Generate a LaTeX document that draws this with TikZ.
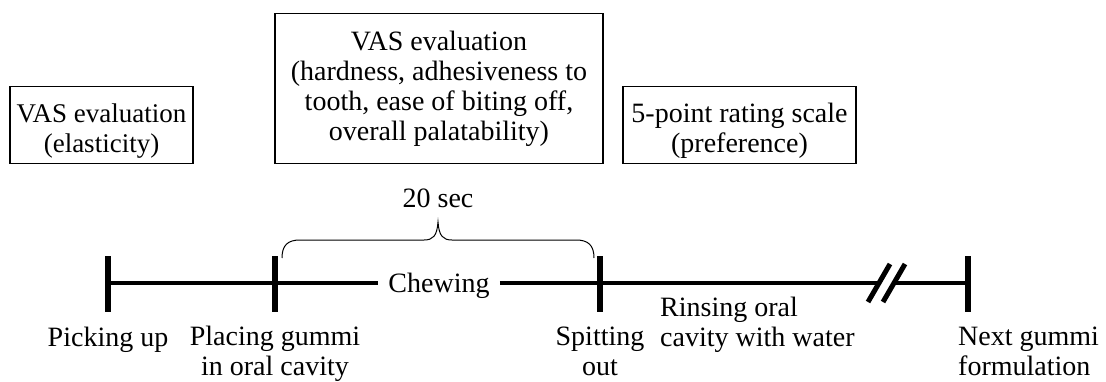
\documentclass[tikz,border=0pt]{standalone}
\usepackage{fontspec}
\setmainfont{Liberation Serif}
\begin{document}
\begin{tikzpicture}[x=1pt,y=-1pt,
  txt/.style={font=\fontsize{28}{30}\selectfont, inner sep=0pt},
  box/.style={txt, draw, line width=1.4pt, align=center},
  tl/.style={line width=4pt},
  tickmark/.style={line width=6pt},
  brk/.style={line width=5pt}]
\useasboundingbox (0,0) rectangle (1106,381);
% boxes
\node[box, font=\fontsize{27}{30}\selectfont, minimum width=183pt, minimum height=77pt] (b1) at (101.5,125) {\rule{0pt}{31pt}VAS evaluation\\(elasticity)};
\node[box, minimum width=328pt, minimum height=150pt] (b2) at (439,88.5) {VAS evaluation\\(hardness, adhesiveness to\\tooth, ease of biting off,\\overall palatability)};
\node[box, minimum width=233pt, minimum height=77pt] (b3) at (739.5,125) {\rule{0pt}{31pt}5-point rating scale\\(preference)};
% timeline points
\coordinate (p1) at (108,283);
\coordinate (p2) at (275,283);
\coordinate (p3) at (600,283);
\coordinate (p4) at (968,283);
\node[txt, inner xsep=10pt] (chew) at (439,286) {Chewing};
\coordinate (m1) at (879,283);
\coordinate (m2) at (894,283);
\draw[tl] (p1) -- (p2) -- (chew.west |- p2);
\draw[tl] (chew.east |- p3) -- (p3) -- (m1);
\draw[tl] (m2) -- (p4);
\foreach \p in {p1,p2,p3,p4} \draw[tickmark] (\p) ++(0,-27) -- ++(0,56);
\draw[brk] (m1) ++(-11,19) -- ++(22,-38);
\draw[brk] (m2) ++(-11,19) -- ++(22,-38);
% brace
\coordinate (bl) at (282,258);
\coordinate (br) at (594,258);
\coordinate (bt) at (438,222);
\draw[line width=1pt] (bl) .. controls (282,245) and (288,240) .. (300,240) -- (424,240)
  .. controls (433,240) and (437,236) .. (bt)
  .. controls (439,236) and (443,240) .. (452,240) -- (576,240)
  .. controls (588,240) and (594,245) .. (br);
\node[txt, anchor=base] (sec) at (438,207) {20 sec};
% labels (base anchor = last line)
\node[txt, anchor=base] (l1) at (108,346) {Picking up};
\node[txt, anchor=base, align=center] (l2) at (275,375) {Placing gummi\\in oral cavity};
\node[txt, anchor=base, align=center] (l3) at (600,375) {Spitting\\out};
\node[txt, anchor=base west, align=left] (l4) at (660,346) {Rinsing oral\\cavity with water};
\node[txt, anchor=base west, align=left] (l5) at (958,375) {Next gummi\\formulation};
\end{tikzpicture}
\end{document}
